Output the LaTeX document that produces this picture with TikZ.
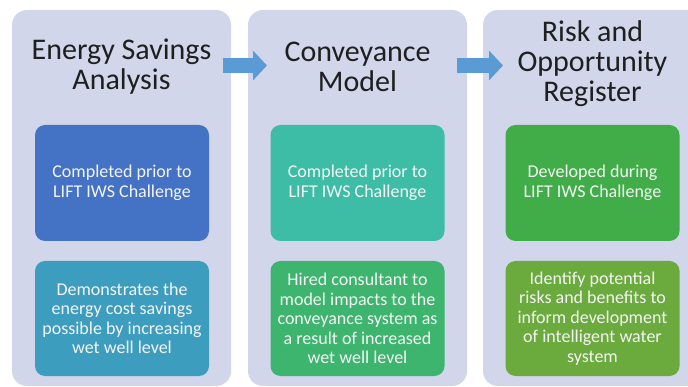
\documentclass[tikz,border=0pt]{standalone}
\usepackage{fontspec}
\setmainfont{Carlito}
\usetikzlibrary{arrows.meta}

\definecolor{panelbg}{HTML}{D1D6EA}
\definecolor{arrowblue}{HTML}{5B9BD5}
\definecolor{boxa}{HTML}{4472C4}
\definecolor{boxb}{HTML}{3D9DBE}
\definecolor{boxc}{HTML}{3EBDA6}
\definecolor{boxd}{HTML}{3DB56F}
\definecolor{boxe}{HTML}{41AD48}
\definecolor{boxf}{HTML}{6BAA3D}

\begin{document}
\begin{tikzpicture}[x=1pt, y=-1pt, every node/.style={inner sep=0pt, outer sep=0pt}]
        \useasboundingbox (0,0) rectangle (688,387);
        \clip (0,0) rectangle (688,387);
        \tikzset{panel/.style={fill=panelbg, rounded corners=15pt, minimum width=219pt, minimum height=376pt}}
        \tikzset{title/.style={align=center, text=black!88, font=\fontsize{30}{30}\selectfont}}
        \tikzset{card/.style={rounded corners=10pt, minimum width=174pt, text=white!96!black, align=center, font=\fontsize{18}{19.5}\selectfont}}
        \tikzset{upper/.style={card, minimum height=116pt}}
        \tikzset{lower/.style={card, minimum height=115pt}}
        \tikzset{bigarrow/.style={draw=arrowblue, line width=15pt, -{Triangle[length=14pt, width=29pt]}}}
        % panels
        \node[panel] (p1) at (121.5,198) {};
        \node[panel] (p2) at (357.5,198) {};
        \node[panel] (p3) at (592.5,198) {};
        % titles
        \node[title] (t1) at (121.5,67) {Energy Savings\\Analysis};
        \node[title] (t2) at (357.5,67) {Conveyance\\Model};
        \node[title] (t3) at (592.5,64) {Risk and\\Opportunity\\Register};
        % upper cards
        \node[upper, fill=boxa] (u1) at (122,183) {Completed prior to\\LIFT IWS Challenge};
        \node[upper, fill=boxc] (u2) at (357.5,183) {Completed prior to\\LIFT IWS Challenge};
        \node[upper, fill=boxe] (u3) at (592.5,183) {Developed during\\LIFT IWS Challenge};
        % lower cards
        \node[lower, fill=boxb] (l1) at (122,318.5) {Demonstrates the\\energy cost savings\\possible by increasing\\wet well level};
        \node[lower, fill=boxd] (l2) at (357.5,318.5) {Hired consultant to\\model impacts to the\\conveyance system as\\a result of increased\\wet well level};
        \node[lower, fill=boxf] (l3) at (592.5,318.5) {Identify potential\\risks and benefits to\\inform development\\of intelligent water\\system};
        % arrows between panels
        \coordinate (a1s) at (223,65.5);
        \coordinate (a1e) at (267,65.5);
        \coordinate (a2s) at (457,65.5);
        \coordinate (a2e) at (503,65.5);
        \draw[bigarrow] (a1s) -- (a1e);
        \draw[bigarrow] (a2s) -- (a2e);
      \end{tikzpicture}
\end{document}
